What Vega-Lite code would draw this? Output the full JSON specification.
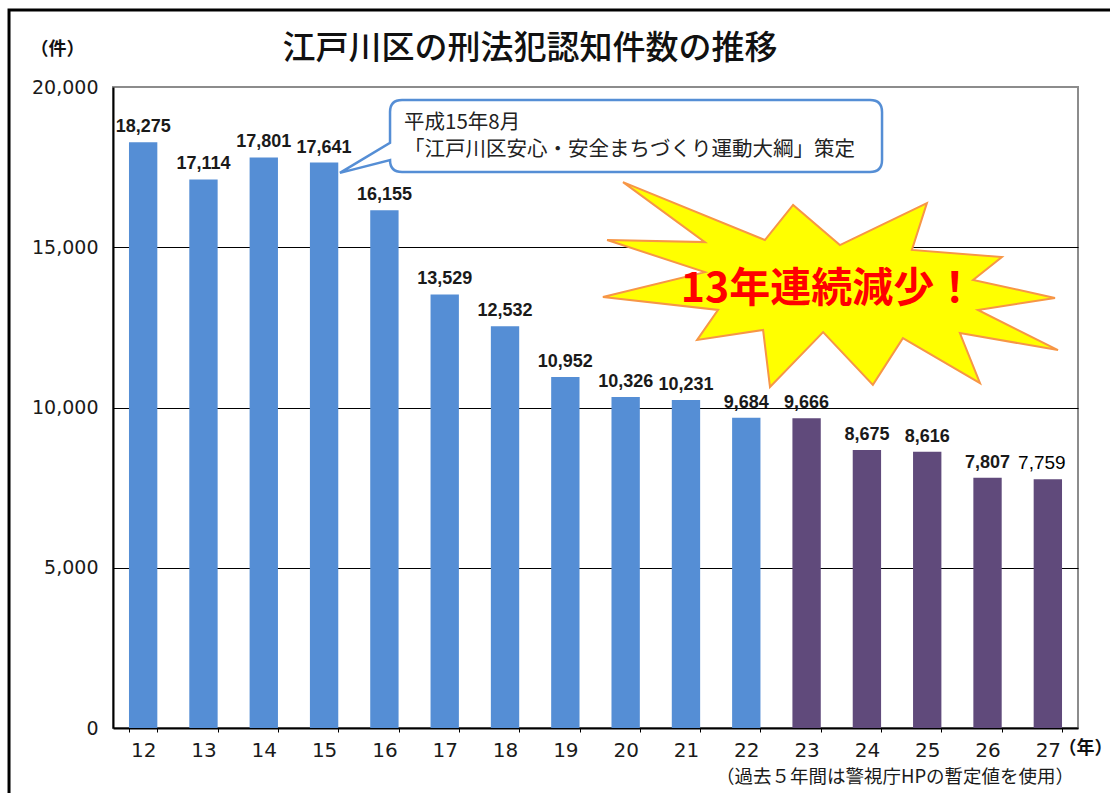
{
  "$schema": "https://vega.github.io/schema/vega-lite/v6.json",
  "autosize": {"type": "none"},
  "width": 965,
  "height": 641,
  "padding": {"left": 113, "top": 87, "right": 32, "bottom": 65},
  "background": "white",
  "config": {
    "view": {"stroke": "#8c8c8c", "strokeWidth": 2},
    "font": "Noto Sans CJK JP"
  },
  "datasets": {
    "crimes": [
      {"year": "12", "count": 18275, "status": "確定値"},
      {"year": "13", "count": 17114, "status": "確定値"},
      {"year": "14", "count": 17801, "status": "確定値"},
      {"year": "15", "count": 17641, "status": "確定値"},
      {"year": "16", "count": 16155, "status": "確定値"},
      {"year": "17", "count": 13529, "status": "確定値"},
      {"year": "18", "count": 12532, "status": "確定値"},
      {"year": "19", "count": 10952, "status": "確定値"},
      {"year": "20", "count": 10326, "status": "確定値"},
      {"year": "21", "count": 10231, "status": "確定値"},
      {"year": "22", "count": 9684, "status": "確定値"},
      {"year": "23", "count": 9666, "status": "暫定値"},
      {"year": "24", "count": 8675, "status": "暫定値"},
      {"year": "25", "count": 8616, "status": "暫定値"},
      {"year": "26", "count": 7807, "status": "暫定値"},
      {"year": "27", "count": 7759, "status": "暫定値"}
    ],
    "one": [{"note": "annotation"}]
  },
  "resolve": {"scale": {"x": "independent"}},
  "layer": [
    {
      "data": {"name": "crimes"},
      "layer": [
        {
          "mark": {"type": "bar"},
          "encoding": {
            "x": {
              "field": "year",
              "type": "ordinal",
              "sort": null,
              "scale": {"paddingInner": 0.53, "paddingOuter": 0.265},
              "axis": {
                "title": "（年）",
                "titleFont": "Noto Sans CJK JP",
                "titleFontSize": 18,
                "titleFontWeight": "bold",
                "titleColor": "#111111",
                "titleAngle": 0,
                "titleAlign": "center",
                "titleBaseline": "middle",
                "titleX": 972,
                "titleY": 20,
                "labelAngle": 0,
                "labelFont": "DejaVu Sans",
                "labelFontSize": 20,
                "labelColor": "#1a1a1a",
                "labelPadding": 8,
                "labelBaseline": "top",
                "domainColor": "#000000",
                "domainWidth": 2,
                "ticks": true,
                "tickBand": "extent",
                "tickColor": "#000000",
                "tickSize": 4,
                "grid": false
              }
            },
            "y": {
              "field": "count",
              "type": "quantitative",
              "scale": {"domain": [0, 20000], "nice": false},
              "axis": {
                "title": "（件）",
                "titleFont": "Noto Sans CJK JP",
                "titleFontSize": 18,
                "titleFontWeight": "bold",
                "titleColor": "#111111",
                "titleAngle": 0,
                "titleAlign": "center",
                "titleBaseline": "middle",
                "titleX": -56,
                "titleY": -38,
                "values": [0, 5000, 10000, 15000, 20000],
                "format": ",d",
                "labelFont": "DejaVu Sans",
                "labelFontSize": 19,
                "labelColor": "#1a1a1a",
                "labelPadding": 15,
                "ticks": false,
                "domainColor": "#000000",
                "domainWidth": 2,
                "grid": true,
                "gridColor": {"condition": {"test": "datum.value >= 20000 || datum.value <= 0", "value": "transparent"}, "value": "#000000"},
                "gridWidth": 1
              }
            },
            "color": {
              "field": "status",
              "type": "nominal",
              "scale": {"domain": ["確定値", "暫定値"], "range": ["#558ED5", "#604A7B"]},
              "legend": null
            }
          }
        },
        {
          "transform": [{"filter": "datum.year != '27'"}],
          "mark": {"type": "text", "font": "Liberation Sans", "fontWeight": "bold", "fontSize": 18, "color": "#1a1a1a", "baseline": "alphabetic", "align": "center", "dy": -10},
          "encoding": {
            "x": {"field": "year", "type": "ordinal", "sort": null},
            "y": {"field": "count", "type": "quantitative"},
            "text": {"field": "count", "type": "quantitative", "format": ","}
          }
        },
        {
          "transform": [{"filter": "datum.year == '27'"}],
          "mark": {"type": "text", "font": "Liberation Sans", "fontSize": 19, "color": "#000000", "baseline": "alphabetic", "align": "center", "dy": -10, "dx": -6},
          "encoding": {
            "x": {"field": "year", "type": "ordinal", "sort": null},
            "y": {"field": "count", "type": "quantitative"},
            "text": {"field": "count", "type": "quantitative", "format": ","}
          }
        }
      ]
    },
    {
      "data": {"name": "one"},
      "mark": {"type": "rect", "fill": "transparent", "stroke": "#000000", "strokeWidth": 3},
      "encoding": {
        "x": {"datum": 9.776, "type": "quantitative", "scale": {"domain": [11.5, 27.5], "nice": false, "zero": false}, "axis": null},
        "x2": {"datum": 30},
        "y": {"datum": 22402, "type": "quantitative"},
        "y2": {"datum": -3000}
      }
    },
    {
      "data": {"name": "one"},
      "mark": {
        "type": "text",
        "text": "江戸川区の刑法犯認知件数の推移",
        "font": "Noto Sans CJK JP",
        "fontSize": 33,
        "fontWeight": 500,
        "color": "#111111",
        "align": "center",
        "baseline": "middle"
      },
      "encoding": {
        "x": {"datum": 18.414, "type": "quantitative", "scale": {"domain": [11.5, 27.5], "nice": false, "zero": false}, "axis": null},
        "y": {"datum": 21186, "type": "quantitative"}
      }
    },
    {
      "data": {"name": "one"},
      "mark": {
        "type": "point",
        "shape": "M -0.78 -0.12 L 0.78 -0.12 Q 0.82 -0.12 0.82 -0.08 L 0.82 0.08 Q 0.82 0.12 0.78 0.12 L -0.78 0.12 Q -0.82 0.12 -0.82 0.08 L -0.987 0.123 L -0.82 0.023 L -0.82 -0.08 Q -0.82 -0.12 -0.78 -0.12 Z",
        "size": 360000,
        "filled": true,
        "fill": "#ffffff",
        "stroke": "#558ED5",
        "strokeWidth": 2.5,
        "opacity": 1
      },
      "encoding": {
        "x": {"datum": 20.172, "type": "quantitative", "scale": {"domain": [11.5, 27.5], "nice": false, "zero": false}, "axis": null},
        "y": {"datum": 18471, "type": "quantitative"}
      }
    },
    {
      "data": {"name": "one"},
      "mark": {
        "type": "text",
        "text": ["平成15年8月", "「江戸川区安心・安全まちづくり運動大綱」策定"],
        "font": "Noto Sans CJK JP",
        "fontSize": 20.5,
        "lineHeight": 27,
        "color": "#222222",
        "align": "left",
        "baseline": "alphabetic"
      },
      "encoding": {
        "x": {"datum": 16.325, "type": "quantitative", "scale": {"domain": [11.5, 27.5], "nice": false, "zero": false}, "axis": null},
        "y": {"datum": 18690, "type": "quantitative"}
      }
    },
    {
      "data": {"name": "one"},
      "mark": {
        "type": "point",
        "shape": "M -0.690 -0.343 L -0.217 -0.150 L -0.123 -0.267 L 0.033 -0.133 L 0.323 -0.273 L 0.273 -0.117 L 0.573 -0.093 L 0.477 -0.017 L 0.750 0.043 L 0.493 0.083 L 0.760 0.217 L 0.433 0.160 L 0.500 0.327 L 0.243 0.177 L 0.143 0.333 L -0.023 0.157 L -0.200 0.340 L -0.223 0.150 L -0.443 0.183 L -0.373 0.083 L -0.757 0.040 L -0.417 -0.043 L -0.743 -0.150 L -0.417 -0.143 Z",
        "size": 360000,
        "filled": true,
        "fill": "#FFFF00",
        "stroke": "#F79646",
        "strokeWidth": 2,
        "opacity": 1
      },
      "encoding": {
        "x": {"datum": 23.388, "type": "quantitative", "scale": {"domain": [11.5, 27.5], "nice": false, "zero": false}, "axis": null},
        "y": {"datum": 13822, "type": "quantitative"}
      }
    },
    {
      "data": {"name": "one"},
      "mark": {
        "type": "text",
        "text": "13年連続減少！",
        "font": "Noto Sans CJK JP",
        "fontSize": 41,
        "fontWeight": "bold",
        "color": "#FF0000",
        "align": "center",
        "baseline": "middle"
      },
      "encoding": {
        "x": {"datum": 23.355, "type": "quantitative", "scale": {"domain": [11.5, 27.5], "nice": false, "zero": false}, "axis": null},
        "y": {"datum": 13666, "type": "quantitative"}
      }
    },
    {
      "data": {"name": "one"},
      "mark": {
        "type": "text",
        "text": "（過去５年間は警視庁HPの暫定値を使用）",
        "font": "Noto Sans CJK JP",
        "fontSize": 18.5,
        "color": "#1a1a1a",
        "align": "center",
        "baseline": "middle"
      },
      "encoding": {
        "x": {"datum": 24.466, "type": "quantitative", "scale": {"domain": [11.5, 27.5], "nice": false, "zero": false}, "axis": null},
        "y": {"datum": -1529, "type": "quantitative"}
      }
    }
  ]
}
